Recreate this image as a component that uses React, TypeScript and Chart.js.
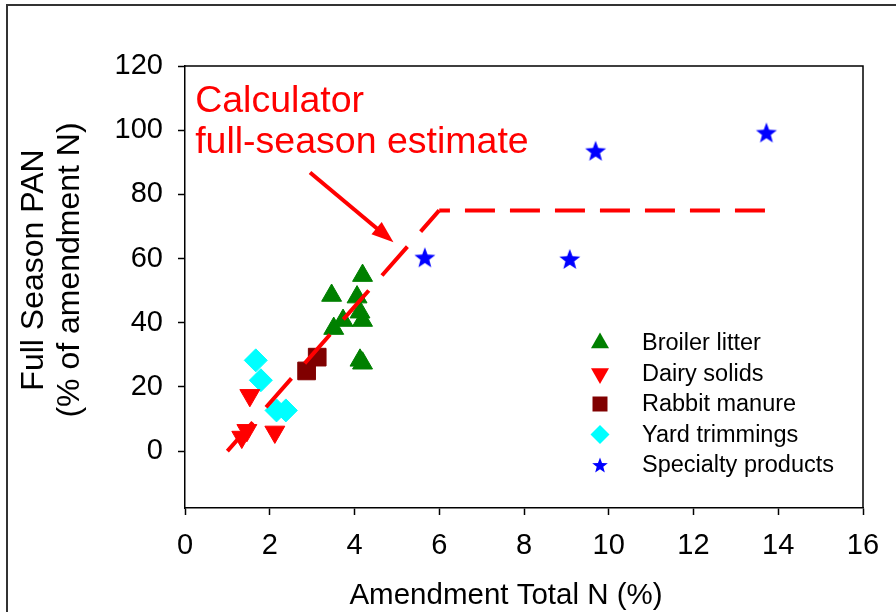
import React, { useEffect, useRef } from "react";
import { Chart, registerables } from "chart.js";

Chart.register(...registerables);

const FONT = "'Liberation Sans', Arial, Helvetica, sans-serif";

// ---------- data ----------
const broilerX = [4.19, 3.46, 4.06, 4.13, 4.19, 3.73, 3.51, 4.13, 4.19];
const broilerY = [54.7, 48.5, 48.0, 43.3, 40.7, 40.7, 38.2, 28.3, 27.4];

const dairyX = [1.53, 1.46, 1.34, 2.12];
const dairyY = [17.4, 6.5, 4.4, 6.0];

const rabbitX = [2.87, 3.12];
const rabbitY = [25.0, 29.3];

const yardX = [1.67, 1.79, 2.16, 2.38];
const yardY = [28.3, 22.1, 12.7, 12.7];

const specialtyX = [5.66, 9.08, 9.69, 13.72];
const specialtyY = [60.4, 59.9, 93.6, 99.3];

const calcX = [1, 6, 13.72];
const calcY = [0, 75, 75];

const seriesNames = [
  "Broiler litter",
  "Dairy solids",
  "Rabbit manure",
  "Yard trimmings",
  "Specialty products",
];

const xTicks = [0, 2, 4, 6, 8, 10, 12, 14, 16];
const yTicks = [0, 20, 40, 60, 80, 100, 120];
const xMin = 0;
const xMax = 16;
const yMin = -17.7;
const yMax = 120;

const xTitle = "Amendment Total N (%)";
const yTitleLines = ["Full Season PAN", "(% of amendment N)"];

const noteLines = ["Calculator", "full-season estimate"];
const noteAnchorX = 0.24;
const noteAnchorY = [105.7, 93.0];
const arrowFrom = { x: 2.95, y: 86.8 };
const arrowTo = { x: 4.92, y: 65.1 };

// ---------- helpers ----------
function makeStar(size: number, R: number, color: string): HTMLCanvasElement {
  const c = document.createElement("canvas");
  c.width = size;
  c.height = size;
  const ctx = c.getContext("2d")!;
  const cx = size / 2;
  const cy = size / 2 + 0.095 * R;
  const r = R * 0.42;
  ctx.beginPath();
  for (let i = 0; i < 10; i++) {
    const ang = -Math.PI / 2 + (i * Math.PI) / 5;
    const rad = i % 2 === 0 ? R : r;
    ctx.lineTo(cx + rad * Math.cos(ang), cy + rad * Math.sin(ang));
  }
  ctx.closePath();
  ctx.fillStyle = color;
  ctx.fill();
  return c;
}

function pts(xs: number[], ys: number[]) {
  return xs.map((x, i) => ({ x, y: ys[i] }));
}

type LegendItem = { style: string; color: string; r: number; label: string };

function drawMarker(ctx: CanvasRenderingContext2D, it: LegendItem, x: number, y: number, star: HTMLCanvasElement) {
  ctx.save();
  ctx.fillStyle = it.color;
  ctx.beginPath();
  const r = it.r;
  if (it.style === "triangle") {
    ctx.moveTo(x, y - r);
    ctx.lineTo(x + r * Math.sin((2 * Math.PI) / 3), y - r * Math.cos((2 * Math.PI) / 3));
    ctx.lineTo(x + r * Math.sin((4 * Math.PI) / 3), y - r * Math.cos((4 * Math.PI) / 3));
    ctx.closePath();
    ctx.fill();
  } else if (it.style === "triangleDown") {
    ctx.moveTo(x, y + r);
    ctx.lineTo(x + r * Math.sin((2 * Math.PI) / 3), y + r * Math.cos((2 * Math.PI) / 3));
    ctx.lineTo(x + r * Math.sin((4 * Math.PI) / 3), y + r * Math.cos((4 * Math.PI) / 3));
    ctx.closePath();
    ctx.fill();
  } else if (it.style === "rect") {
    const s = Math.SQRT1_2 * r;
    ctx.fillRect(x - s, y - s, 2 * s, 2 * s);
  } else if (it.style === "rectRot") {
    ctx.moveTo(x, y - r);
    ctx.lineTo(x + r, y);
    ctx.lineTo(x, y + r);
    ctx.lineTo(x - r, y);
    ctx.closePath();
    ctx.fill();
  } else if (it.style === "star") {
    const w = star.width;
    ctx.drawImage(star, x - w / 2, y - w / 2, w, w);
  }
  ctx.restore();
}

export default function App() {
  const ref = useRef<HTMLCanvasElement | null>(null);

  useEffect(() => {
    const canvas = ref.current!;
    const star = makeStar(24, 11, "#0000FF");
    const legendStar = makeStar(18, 8.2, "#0000FF");

    const legendItems: LegendItem[] = [
      { style: "triangle", color: "#008000", r: 10.4, label: seriesNames[0] },
      { style: "triangleDown", color: "#FF0000", r: 10.4, label: seriesNames[1] },
      { style: "rect", color: "#800000", r: 10.6, label: seriesNames[2] },
      { style: "rectRot", color: "#00FFFF", r: 9.5, label: seriesNames[3] },
      { style: "star", color: "#0000FF", r: 9, label: seriesNames[4] },
    ];

    const framePlugin = {
      id: "frame",
      beforeDraw(chart: any) {
        const ctx = chart.ctx as CanvasRenderingContext2D;
        ctx.save();
        ctx.fillStyle = "#ffffff";
        ctx.fillRect(0, 0, chart.width, chart.height);
        ctx.strokeStyle = "#333333";
        ctx.lineWidth = 2;
        ctx.strokeRect(7, 5, chart.width + 20, chart.height + 20);
        ctx.restore();
      },
      afterDraw(chart: any) {
        const ctx = chart.ctx as CanvasRenderingContext2D;
        const a = chart.chartArea;
        const xs = chart.scales.x;
        const ys = chart.scales.y;
        ctx.save();
        // plot frame (top / right)
        ctx.strokeStyle = "#000";
        ctx.lineWidth = 1.5;
        ctx.beginPath();
        ctx.moveTo(a.left, a.top);
        ctx.lineTo(a.right, a.top);
        ctx.lineTo(a.right, a.bottom);
        ctx.stroke();

        // x title
        ctx.fillStyle = "#000";
        ctx.font = `29.5px ${FONT}`;
        ctx.textAlign = "center";
        ctx.textBaseline = "alphabetic";
        ctx.fillText(xTitle, (a.left + a.right) / 2 - 18, a.bottom + 96);

        // y title
        ctx.font = `32px ${FONT}`;
        ctx.translate(43, (a.top + a.bottom) / 2 - 17);
        ctx.rotate(-Math.PI / 2);
        ctx.fillText(yTitleLines[0], 0, 0);
        ctx.fillText(yTitleLines[1], 0, 36);
        ctx.restore();

        // annotation
        ctx.save();
        ctx.fillStyle = "#FF0000";
        ctx.font = `37.5px ${FONT}`;
        ctx.textAlign = "left";
        ctx.textBaseline = "alphabetic";
        noteLines.forEach((t, i) => {
          ctx.fillText(t, xs.getPixelForValue(noteAnchorX), ys.getPixelForValue(noteAnchorY[i]));
        });
        // arrow
        const x1 = xs.getPixelForValue(arrowFrom.x);
        const y1 = ys.getPixelForValue(arrowFrom.y);
        const x2 = xs.getPixelForValue(arrowTo.x);
        const y2 = ys.getPixelForValue(arrowTo.y);
        const ang = Math.atan2(y2 - y1, x2 - x1);
        const headL = 22;
        const headW = 8;
        const bx = x2 - headL * Math.cos(ang);
        const by = y2 - headL * Math.sin(ang);
        ctx.strokeStyle = "#FF0000";
        ctx.lineWidth = 4;
        ctx.beginPath();
        ctx.moveTo(x1, y1);
        ctx.lineTo(bx + 4 * Math.cos(ang), by + 4 * Math.sin(ang));
        ctx.stroke();
        ctx.beginPath();
        ctx.moveTo(x2, y2);
        ctx.lineTo(bx + headW * Math.sin(ang), by - headW * Math.cos(ang));
        ctx.lineTo(bx - headW * Math.sin(ang), by + headW * Math.cos(ang));
        ctx.closePath();
        ctx.fillStyle = "#FF0000";
        ctx.fill();
        ctx.restore();

        // legend
        ctx.save();
        ctx.font = `23.5px ${FONT}`;
        ctx.fillStyle = "#000";
        ctx.textAlign = "left";
        ctx.textBaseline = "middle";
        const mx = a.left + 415;
        const tx = a.left + 457;
        const y0 = a.top + 277;
        legendItems.forEach((it, i) => {
          const yy = y0 + i * 30.5;
          drawMarker(ctx, it, mx, yy, legendStar);
          ctx.fillText(it.label, tx, yy + 1);
        });
        ctx.restore();
      },
    };

    const chart = new Chart(canvas, {
      type: "scatter",
      data: {
        datasets: [
          {
            type: "line",
            label: "Calculator full-season estimate",
            data: pts(calcX, calcY),
            borderColor: "#FF0000",
            borderWidth: 4,
            borderDash: [30, 15],
            segment: {
              borderDash: (c: any) => (c.p0DataIndex === 0 ? [38.5, 20] : [30, 15]),
              borderDashOffset: (c: any) => (c.p0DataIndex === 0 ? 0 : 19.3),
            },
            pointRadius: 0,
            showLine: true,
            fill: false,
            tension: 0,
            order: 0,
          } as any,
          {
            label: seriesNames[0],
            data: pts(broilerX, broilerY),
            pointStyle: "triangle",
            pointRadius: 11.5,
            backgroundColor: "#008000",
            borderColor: "#008000",
            borderWidth: 1,
            order: 1,
          },
          {
            label: seriesNames[1],
            data: pts(dairyX, dairyY),
            pointStyle: "triangle",
            rotation: 180,
            pointRadius: 11.5,
            backgroundColor: "#FF0000",
            borderColor: "#FF0000",
            borderWidth: 1,
            order: 1,
          },
          {
            label: seriesNames[2],
            data: pts(rabbitX, rabbitY),
            pointStyle: "rect",
            pointRadius: 12.5,
            backgroundColor: "#800000",
            borderColor: "#800000",
            borderWidth: 1,
            order: 1,
          },
          {
            label: seriesNames[3],
            data: pts(yardX, yardY),
            pointStyle: "rectRot",
            pointRadius: 11.5,
            backgroundColor: "#00FFFF",
            borderColor: "#00FFFF",
            borderWidth: 1,
            order: 1,
          },
          {
            label: seriesNames[4],
            data: pts(specialtyX, specialtyY),
            pointStyle: star as any,
            pointRadius: 12,
            backgroundColor: "#0000FF",
            borderColor: "#0000FF",
            order: 1,
          },
        ],
      },
      options: {
        animation: false,
        responsive: false,
        devicePixelRatio: 1,
        events: [],
        layout: { padding: { top: 66, right: 33, left: 0, bottom: 0 } },
        plugins: {
          legend: { display: false },
          tooltip: { enabled: false },
          title: { display: false },
        },
        scales: {
          x: {
            type: "linear",
            min: xMin,
            max: xMax,
            afterBuildTicks: (s: any) => {
              s.ticks = xTicks.map((v) => ({ value: v }));
            },
            afterFit: (s: any) => {
              s.height = 104;
              s.paddingLeft = 0;
              s.paddingRight = 0;
              s.paddingTop = 0;
              s.paddingBottom = 0;
            },
            grid: {
              drawOnChartArea: false,
              drawTicks: true,
              tickLength: 7,
              tickColor: "#000",
              tickWidth: 1.5,
            },
            border: { display: true, color: "#000", width: 1.5 },
            ticks: {
              color: "#000",
              font: { family: FONT, size: 29 },
              padding: 14,
              maxRotation: 0,
              autoSkip: false,
            },
            title: { display: false },
          },
          y: {
            type: "linear",
            min: yMin,
            max: yMax,
            afterBuildTicks: (s: any) => {
              s.ticks = yTicks.map((v) => ({ value: v }));
            },
            afterFit: (s: any) => {
              s.width = 185;
              s.paddingLeft = 0;
              s.paddingRight = 0;
              s.paddingTop = 0;
              s.paddingBottom = 0;
            },
            grid: {
              drawOnChartArea: false,
              drawTicks: true,
              tickLength: 7,
              tickColor: "#000",
              tickWidth: 1.5,
            },
            border: { display: true, color: "#000", width: 1.5 },
            ticks: {
              color: "#000",
              font: { family: FONT, size: 29 },
              padding: 15,
              autoSkip: false,
            },
            title: { display: false },
          },
        },
      },
      plugins: [framePlugin],
    });

    return () => chart.destroy();
  }, []);

  return (
    <div style={{ position: "absolute", left: 0, top: 0, width: 896, height: 612, background: "#fff" }}>
      <canvas ref={ref} width={896} height={612} style={{ display: "block", width: 896, height: 612 }} />
    </div>
  );
}
